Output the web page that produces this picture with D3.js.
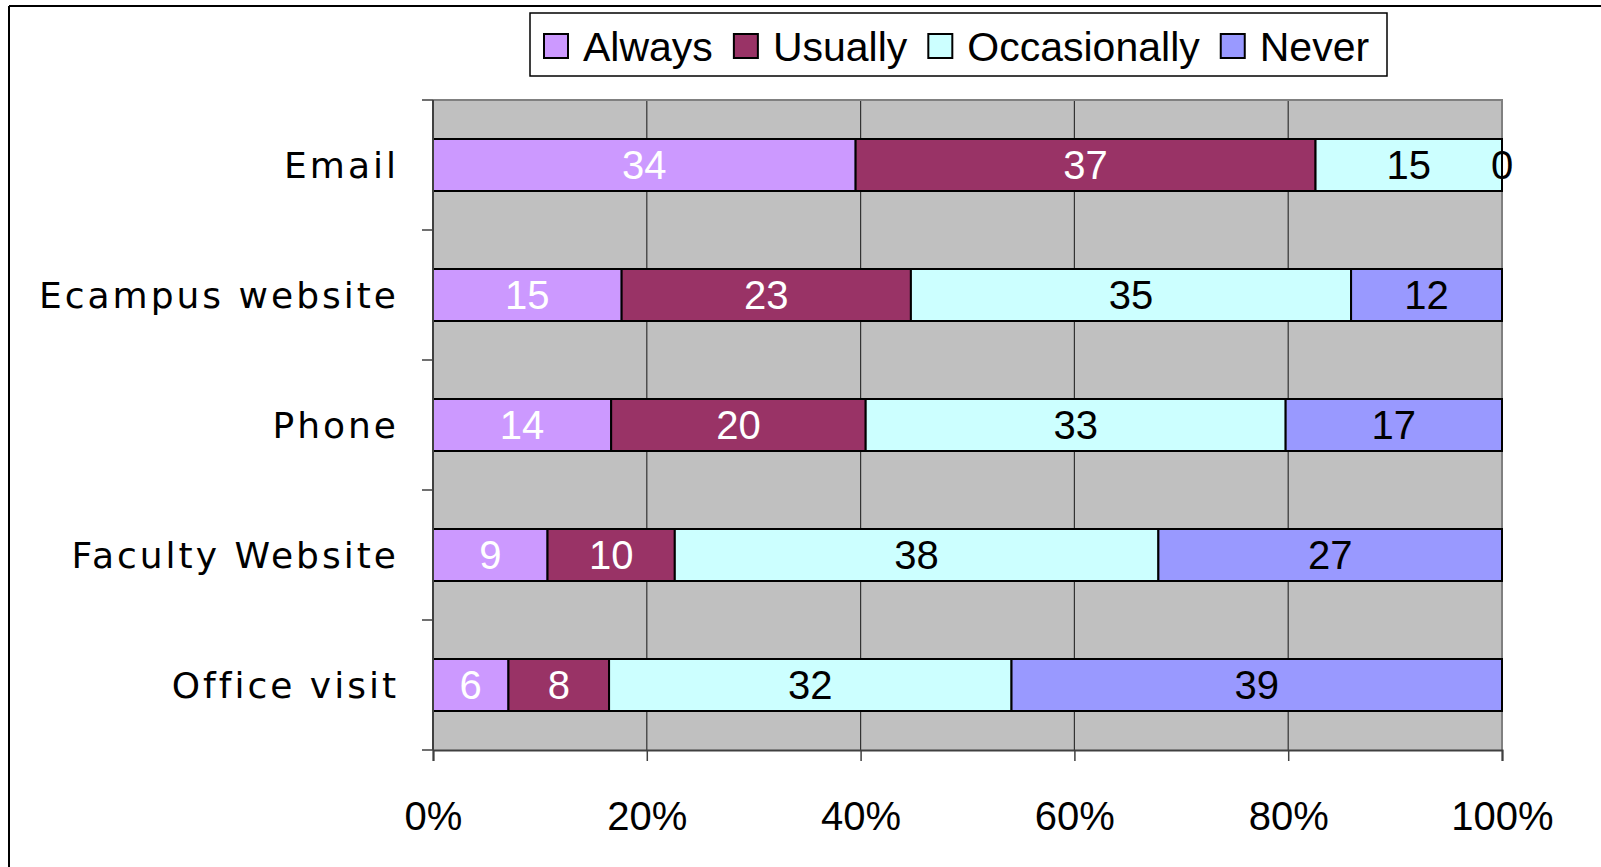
<!DOCTYPE html>
<html>
<head>
<meta charset="utf-8">
<script src="https://cdn.jsdelivr.net/npm/d3@7"></script>
<style>
  html, body { margin: 0; padding: 0; background: #fff; }
  svg { display: block; }
</style>
</head>
<body>
<svg id="chart" width="1601" height="867"></svg>
<script>
// Contact channels and how often each is used (counts of respondents)
const categories = ["Email", "Ecampus website", "Phone", "Faculty Website", "Office visit"];
const seriesNames = ["Always", "Usually", "Occasionally", "Never"];
const always       = [34, 15, 14,  9,  6];
const usually      = [37, 23, 20, 10,  8];
const occasionally = [15, 35, 33, 38, 32];
const never        = [ 0, 12, 17, 27, 39];
const tickValues = [0, 0.2, 0.4, 0.6, 0.8, 1];
const tickLabels = ["0%", "20%", "40%", "60%", "80%", "100%"];

const seriesColors = ["#CC99FF", "#993366", "#CCFFFF", "#9999FF"];
const labelColors  = ["#FFFFFF", "#FFFFFF", "#000000", "#000000"];

const rows = categories.map((c, i) => ({
  category: c,
  Always: always[i], Usually: usually[i], Occasionally: occasionally[i], Never: never[i]
}));

const svg = d3.select("#chart");
const plot = { left: 433, right: 1502, top: 100, bottom: 750 };

const x = d3.scaleLinear().domain([0, 1]).range([plot.left, plot.right]);
const y = d3.scaleBand().domain(categories).range([plot.top, plot.bottom])
  .paddingInner(0.6).paddingOuter(0.3);

// 100% stacked layout
const stacked = d3.stack().keys(seriesNames).offset(d3.stackOffsetExpand)(rows);

// outer frame (top and left edges)
svg.append("line").attr("x1", 9).attr("x2", 1601).attr("y1", 6).attr("y2", 6)
  .attr("stroke", "#000").attr("stroke-width", 2);
svg.append("line").attr("x1", 9).attr("x2", 9).attr("y1", 6).attr("y2", 867)
  .attr("stroke", "#000").attr("stroke-width", 2);

// plot background
svg.append("rect")
  .attr("x", plot.left).attr("y", plot.top)
  .attr("width", plot.right - plot.left).attr("height", plot.bottom - plot.top)
  .attr("fill", "#C0C0C0");

// vertical gridlines
svg.append("g").selectAll("line")
  .data(tickValues.slice(1, -1))
  .join("line")
  .attr("x1", d => x(d)).attr("x2", d => x(d))
  .attr("y1", plot.top).attr("y2", plot.bottom)
  .attr("stroke", "#333").attr("stroke-width", 1.2);

// plot border top/right
svg.append("path")
  .attr("d", `M${plot.left},${plot.top}H${plot.right}V${plot.bottom}`)
  .attr("fill", "none").attr("stroke", "#808080").attr("stroke-width", 2);

// bars
const groups = svg.append("g").selectAll("g")
  .data(stacked)
  .join("g")
  .attr("fill", (d, i) => seriesColors[i]);

groups.selectAll("rect")
  .data(d => d.map(v => ({ v, cat: v.data.category })))
  .join("rect")
  .attr("x", d => x(d.v[0]))
  .attr("width", d => x(d.v[1]) - x(d.v[0]))
  .attr("y", d => y(d.cat))
  .attr("height", y.bandwidth())
  .attr("stroke", "#000").attr("stroke-width", 2);

// value labels, centred in each segment
stacked.forEach((s, si) => {
  svg.append("g").selectAll("text")
    .data(s)
    .join("text")
    .attr("x", d => x((d[0] + d[1]) / 2))
    .attr("y", d => y(d.data.category) + y.bandwidth() / 2)
    .attr("dy", "0.36em")
    .attr("text-anchor", "middle")
    .attr("font-family", "'Liberation Sans', Arial, sans-serif")
    .attr("font-size", 40)
    .attr("fill", labelColors[si])
    .text(d => d.data[s.key]);
});

// left axis line and ticks at band boundaries
const step = y.step();
const boundaries = d3.range(categories.length + 1).map(i => plot.top + i * step);
svg.append("line").attr("x1", plot.left).attr("x2", plot.left)
  .attr("y1", plot.top).attr("y2", plot.bottom)
  .attr("stroke", "#404040").attr("stroke-width", 2);
svg.append("g").selectAll("line")
  .data(boundaries)
  .join("line")
  .attr("x1", plot.left - 11).attr("x2", plot.left)
  .attr("y1", d => d).attr("y2", d => d)
  .attr("stroke", "#404040").attr("stroke-width", 1.5);

// category labels
svg.append("g").selectAll("text")
  .data(categories)
  .join("text")
  .attr("x", 399)
  .attr("y", d => y(d) + y.bandwidth() / 2)
  .attr("dy", "0.36em")
  .attr("text-anchor", "end")
  .attr("font-family", "'DejaVu Sans', Verdana, sans-serif")
  .attr("font-size", 36)
  .attr("letter-spacing", 3)
  .attr("fill", "#000")
  .text(d => d);

// bottom axis
const xAxis = d3.axisBottom(x).tickValues(tickValues)
  .tickFormat((d, i) => tickLabels[i]).tickSize(11).tickPadding(41);
const gx = svg.append("g").attr("transform", `translate(0,${plot.bottom})`).call(xAxis);
gx.select(".domain").attr("stroke", "#404040").attr("stroke-width", 2);
gx.selectAll(".tick line").attr("stroke", "#404040").attr("stroke-width", 1.5);
gx.selectAll(".tick text")
  .attr("font-family", "'Liberation Sans', Arial, sans-serif")
  .attr("font-size", 40).attr("fill", "#000");

// legend
const legend = svg.append("g");
const box = { x: 530, y: 13, w: 857, h: 63 };
legend.append("rect")
  .attr("x", box.x).attr("y", box.y).attr("width", box.w).attr("height", box.h)
  .attr("fill", "#fff").attr("stroke", "#000").attr("stroke-width", 1.5);
let cx = box.x + 14;
seriesNames.forEach((name, i) => {
  legend.append("rect")
    .attr("x", cx).attr("y", box.y + 21).attr("width", 24).attr("height", 24)
    .attr("fill", seriesColors[i]).attr("stroke", "#000").attr("stroke-width", 2);
  const t = legend.append("text")
    .attr("x", cx + 39).attr("y", box.y + 48)
    .attr("font-family", "'Liberation Sans', Arial, sans-serif")
    .attr("font-size", 41).attr("fill", "#000")
    .text(name);
  cx += 39 + t.node().getComputedTextLength() + 21;
});
</script>
</body>
</html>
